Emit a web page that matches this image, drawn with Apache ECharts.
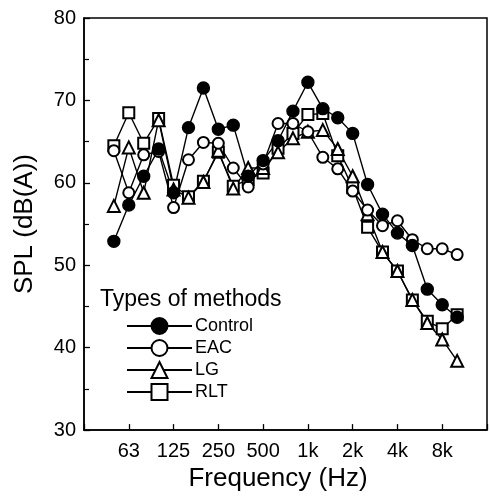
<!DOCTYPE html>
<html>
<head>
<meta charset="utf-8">
<script src="https://cdn.jsdelivr.net/npm/echarts@6/dist/echarts.min.js"></script>
<style>
  html, body { margin: 0; padding: 0; background: #fff; }
  #chart { width: 490px; height: 497px; }
</style>
</head>
<body>
<div id="chart"></div>
<script>
// 1/3-octave bands, 50 Hz .. 10 kHz
var bands = ['50', '63', '80', '100', '125', '160', '200', '250', '315', '400', '500', '630',
             '800', '1k', '1.25k', '1.6k', '2k', '2.5k', '3.15k', '4k', '5k', '6.3k', '8k', '10k'];
var tickLabels = ['63', '125', '250', '500', '1k', '2k', '4k', '8k'];

var control = [52.9, 57.3, 60.8, 64.1, 58.8, 66.7, 71.5, 66.5, 67.0, 60.8, 62.7, 65.1,
               68.7, 72.2, 69.0, 67.9, 66.0, 59.8, 56.2, 53.9, 52.4, 47.1, 45.2, 43.7];
var eac     = [63.9, 58.8, 63.4, 63.8, 57.0, 62.8, 64.9, 64.8, 61.8, 59.5, 62.3, 67.2,
               67.2, 66.2, 63.1, 61.7, 59.0, 56.7, 54.8, 55.4, 53.1, 52.0, 52.0, 51.3];
var lg      = [57.2, 64.3, 58.8, 67.6, 59.2, 58.2, 60.1, 63.9, 59.3, 61.8, 61.8, 63.7,
               65.4, 66.2, 66.4, 64.1, 60.8, 56.2, 51.6, 49.3, 45.8, 43.0, 41.0, 38.4];
var rlt     = [64.5, 68.5, 64.8, 67.8, 59.7, 58.3, 60.2, 63.7, 59.6, 60.4, 61.2, 64.2,
               66.0, 68.3, 68.4, 63.3, 59.4, 54.6, 51.6, 49.3, 45.8, 43.2, 42.3, 44.0];

// x position in thirds of an octave, 63 Hz = 0
function pts(vals) {
    return vals.map(function (v, i) { return [i - 1, v]; });
}

var font = 'Liberation Sans, Arial, sans-serif';

function mk(name, vals, symbol, size) {
    return {
        name: name,
        type: 'line',
        data: pts(vals),
        symbol: symbol,
        symbolSize: size,
        showSymbol: true,
        lineStyle: { color: '#000', width: 1.4 },
        itemStyle: { color: '#000', borderColor: '#000', borderWidth: 1.4 },
        emphasis: { disabled: true },
        animation: false
    };
}

var option = {
    backgroundColor: '#fff',
    animation: false,
    title: {
        text: 'Types of methods',
        left: 95,
        top: 283,
        textStyle: { fontFamily: font, fontSize: 23, fontWeight: 'normal', color: '#000' }
    },
    legend: {
        orient: 'vertical',
        left: 121,
        top: 312,
        itemWidth: 65,
        itemHeight: 20,
        itemGap: 4,
        data: ['Control', 'EAC', 'LG', 'RLT'],
        textStyle: { fontFamily: font, fontSize: 18, color: '#000', padding: [0, 0, 0, -2] }
    },
    grid: {
        left: 84,
        right: -5,
        top: 18,
        bottom: 64,
        show: true,
        borderColor: '#000',
        borderWidth: 1.5,
        backgroundColor: 'transparent'
    },
    xAxis: {
        type: 'value',
        min: -3,
        max: 24,
        interval: 3,
        name: 'Frequency (Hz)',
        nameLocation: 'middle',
        nameGap: 35,
        nameTextStyle: { fontFamily: font, fontSize: 26, color: '#000', padding: [0, 15, 0, 0] },
        axisLine: { onZero: false, lineStyle: { color: '#000', width: 1.5 } },
        axisTick: { inside: true, length: 6, lineStyle: { color: '#000', width: 1.3 } },
        splitLine: { show: false },
        axisLabel: {
            fontFamily: font, fontSize: 20, color: '#000', margin: 11,
            formatter: function (v) {
                var k = Math.round(v / 3);
                return (v >= 0 && k < tickLabels.length) ? tickLabels[k] : '';
            }
        }
    },
    yAxis: {
        type: 'value',
        min: 30,
        max: 80,
        interval: 10,
        name: 'SPL (dB(A))',
        nameLocation: 'middle',
        nameGap: 46,
        nameTextStyle: { fontFamily: font, fontSize: 26, color: '#000' },
        axisLine: { onZero: false, lineStyle: { color: '#000', width: 1.5 } },
        axisTick: { inside: true, length: 6, lineStyle: { color: '#000', width: 1.3 } },
        minorTick: { show: true, splitNumber: 2, length: 5, lineStyle: { color: '#000', width: 1.2 } },
        splitLine: { show: false },
        axisLabel: { fontFamily: font, fontSize: 20, color: '#000', margin: 8 }
    },
    series: [
        mk('RLT', rlt, 'emptyRect', 11),
        mk('LG', lg, 'emptyTriangle', 12),
        mk('EAC', eac, 'emptyCircle', 11),
        mk('Control', control, 'circle', 12)
    ]
};

var chart = echarts.init(document.getElementById('chart'), null, { renderer: 'canvas' });
chart.setOption(option);
</script>
</body>
</html>
